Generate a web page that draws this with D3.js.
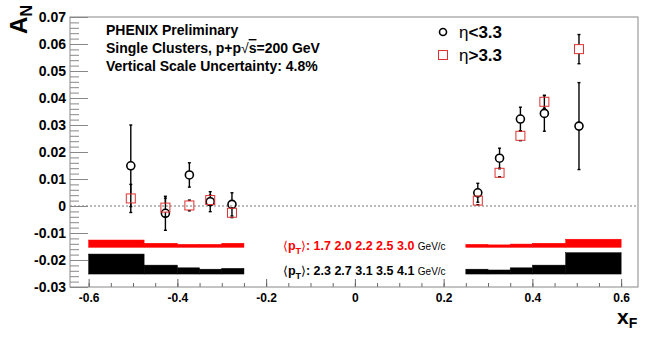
<!DOCTYPE html>
<html>
<head>
<meta charset="utf-8">
<script src="https://cdn.jsdelivr.net/npm/d3@7"></script>
<style>
body { margin: 0; background: #fff; }
svg { font-family: "Liberation Sans", Arial, sans-serif; }
</style>
</head>
<body>
<script>
// x_F of each measured point (both eta ranges share the same bins)
var xfPoints = [-0.505, -0.427, -0.373, -0.326, -0.277, 0.277, 0.326, 0.373, 0.427, 0.505];

// eta < 3.3 (black circles)
var anLowEta = [0.0149, -0.0027, 0.0115, 0.0016, 0.0006, 0.0049, 0.0177, 0.0322, 0.0343, 0.0296];
var errLowEta = [0.0151, 0.0063, 0.0045, 0.0037, 0.0043, 0.0035, 0.0037, 0.0044, 0.0066, 0.0161];

// eta > 3.3 (red squares)
var anHighEta = [0.0028, -0.0006, 0.0002, 0.0022, -0.0025, 0.0020, 0.0123, 0.0260, 0.0386, 0.0581];
var errHighEta = [0.0052, 0.0035, 0.0020, 0.0018, 0.0018, 0.0015, 0.0015, 0.0018, 0.0024, 0.0054];

// systematic bands drawn under the points
var bandEdgesLeft = [-0.6, -0.475, -0.4, -0.35, -0.3, -0.25];
var bandEdgesRight = [0.25, 0.3, 0.35, 0.4, 0.475, 0.6];
var redBandBase = -0.0153;
var redBandLeft = [0.0027, 0.0015, 0.0011, 0.0011, 0.0015];
var redBandRight = [0.0011, 0.0009, 0.0012, 0.0015, 0.0030];
var blackBandBase = -0.0252;
var blackBandLeft = [0.0074, 0.0033, 0.0023, 0.0018, 0.0021];
var blackBandRight = [0.0018, 0.0015, 0.0023, 0.0033, 0.0079];

var ptRed = ["1.7", "2.0", "2.2", "2.5", "3.0"];
var ptBlack = ["2.3", "2.7", "3.1", "3.5", "4.1"];

var xTicks = [-0.6, -0.4, -0.2, 0, 0.2, 0.4, 0.6];
var xTickLabels = ["-0.6", "-0.4", "-0.2", "0", "0.2", "0.4", "0.6"];
var yTicks = [-0.03, -0.02, -0.01, 0, 0.01, 0.02, 0.03, 0.04, 0.05, 0.06, 0.07];
var yTickLabels = ["-0.03", "-0.02", "-0.01", "0", "0.01", "0.02", "0.03", "0.04", "0.05", "0.06", "0.07"];

var width = 664, height = 343;
var frame = {left: 70, right: 638, top: 17, bottom: 287};

var x = d3.scaleLinear().domain([-0.642, 0.638]).range([frame.left, frame.right]);
var y = d3.scaleLinear().domain([-0.03, 0.07]).range([frame.bottom, frame.top]);

var svg = d3.select("body").append("svg")
	.attr("width", width)
	.attr("height", height);

// bands
function drawBand(edges, heights, base, color) {
	svg.append("g").selectAll("rect")
		.data(heights)
		.enter().append("rect")
		.attr("x", function (d, i) { return x(edges[i]); })
		.attr("width", function (d, i) { return x(edges[i + 1]) - x(edges[i]); })
		.attr("y", function (d) { return y(base + d); })
		.attr("height", function (d) { return y(base) - y(base + d); })
		.attr("fill", color)
		.attr("stroke", color)
		.attr("stroke-width", 0.5);
}
drawBand(bandEdgesLeft, redBandLeft, redBandBase, "#ff0000");
drawBand(bandEdgesRight, redBandRight, redBandBase, "#ff0000");
drawBand(bandEdgesLeft, blackBandLeft, blackBandBase, "#000");
drawBand(bandEdgesRight, blackBandRight, blackBandBase, "#000");

// zero line
svg.append("line")
	.attr("x1", frame.left).attr("x2", frame.right)
	.attr("y1", y(0)).attr("y2", y(0))
	.attr("stroke", "#777")
	.attr("stroke-width", 1)
	.attr("stroke-dasharray", "2,2");

// axes
var yMinor = d3.range(-30, 71, 2).map(function (i) { return i / 1000; });
var xMinor = d3.range(-12, 13, 1).map(function (i) { return i / 20; });

svg.append("g")
	.attr("transform", "translate(" + frame.left + ",0)")
	.call(d3.axisLeft(y).tickValues(yMinor).tickSize(-9).tickSizeOuter(0).tickFormat(""))
	.call(function (g) { g.select(".domain").remove(); g.selectAll("line").attr("stroke", "#888"); });

svg.append("g")
	.attr("transform", "translate(" + frame.left + ",0)")
	.call(d3.axisLeft(y).tickValues(yTicks).tickSize(-18).tickSizeOuter(0).tickPadding(4)
		.tickFormat(function (d, i) { return yTickLabels[i]; }))
	.call(function (g) {
		g.select(".domain").remove();
		g.selectAll("line").attr("stroke", "#888");
		g.selectAll("text").attr("font-size", 14).attr("font-weight", "bold")
			.attr("font-family", "Liberation Sans, Arial, sans-serif").attr("fill", "#000");
	});

svg.append("g")
	.attr("transform", "translate(0," + frame.bottom + ")")
	.call(d3.axisBottom(x).tickValues(xMinor).tickSize(-4).tickSizeOuter(0).tickFormat(""))
	.call(function (g) { g.select(".domain").remove(); g.selectAll("line").attr("stroke", "#666"); });

svg.append("g")
	.attr("transform", "translate(0," + frame.bottom + ")")
	.call(d3.axisBottom(x).tickValues(xTicks).tickSize(-8).tickSizeOuter(0).tickPadding(6)
		.tickFormat(function (d, i) { return xTickLabels[i]; }))
	.call(function (g) {
		g.select(".domain").remove();
		g.selectAll("line").attr("stroke", "#666");
		g.selectAll("text").attr("font-size", 12).attr("font-weight", "bold")
			.attr("font-family", "Liberation Sans, Arial, sans-serif").attr("fill", "#000");
	});

// frame
svg.append("rect")
	.attr("x", frame.left).attr("y", frame.top)
	.attr("width", frame.right - frame.left)
	.attr("height", frame.bottom - frame.top)
	.attr("fill", "none")
	.attr("stroke", "#888")
	.attr("stroke-width", 1);

// error bars, leaving a gap for the marker
function drawErrors(values, errors, gap) {
	var g = svg.append("g").attr("stroke", "#000").attr("stroke-width", 1.4);
	values.forEach(function (v, i) {
		var cx = x(xfPoints[i]);
		var top = y(v + errors[i]), bot = y(v - errors[i]), cy = y(v);
		if (top < cy - gap) g.append("line").attr("x1", cx).attr("x2", cx).attr("y1", top).attr("y2", cy - gap);
		if (bot > cy + gap) g.append("line").attr("x1", cx).attr("x2", cx).attr("y1", cy + gap).attr("y2", bot);
		g.append("line").attr("x1", cx - 1.5).attr("x2", cx + 1.5).attr("y1", top).attr("y2", top);
		g.append("line").attr("x1", cx - 1.5).attr("x2", cx + 1.5).attr("y1", bot).attr("y2", bot);
	});
}
drawErrors(anLowEta, errLowEta, 4);
drawErrors(anHighEta, errHighEta, 4.5);

svg.append("g").selectAll("circle")
	.data(anLowEta)
	.enter().append("circle")
	.attr("cx", function (d, i) { return x(xfPoints[i]); })
	.attr("cy", function (d) { return y(d); })
	.attr("r", 4)
	.attr("fill", "none")
	.attr("stroke", "#000")
	.attr("stroke-width", 1.6);

svg.append("g").selectAll("rect")
	.data(anHighEta)
	.enter().append("rect")
	.attr("x", function (d, i) { return x(xfPoints[i]) - 4.5; })
	.attr("y", function (d) { return y(d) - 4.5; })
	.attr("width", 9)
	.attr("height", 9)
	.attr("fill", "none")
	.attr("stroke", "#e03030")
	.attr("stroke-width", 1);

// axis titles
var yTitle = svg.append("text")
	.attr("transform", "translate(27,5) rotate(-90)")
	.attr("text-anchor", "end")
	.attr("font-weight", "bold")
	.attr("font-size", 24);
yTitle.append("tspan").text("A");
yTitle.append("tspan").attr("font-size", 16).attr("dy", 5).text("N");

var xTitle = svg.append("text")
	.attr("x", 617).attr("y", 324)
	.attr("font-weight", "bold")
	.attr("font-size", 21);
xTitle.append("tspan").text("x");
xTitle.append("tspan").attr("font-size", 14).attr("dy", 4).text("F");

// header
var header = svg.append("g").attr("font-weight", "bold").attr("font-size", 14);
header.append("text").attr("x", 106).attr("y", 35).text("PHENIX Preliminary");
var h2 = header.append("text").attr("x", 106).attr("y", 53);
h2.append("tspan").text("Single Clusters, p+p");
h2.append("tspan").attr("font-weight", "normal").text("\u221A");
h2.append("tspan").style("text-decoration", "overline").text("s");
h2.append("tspan").text("=200 GeV");
header.append("text").attr("x", 106).attr("y", 71).text("Vertical Scale Uncertainty: 4.8%");

// legend
svg.append("circle")
	.attr("cx", 443).attr("cy", 32).attr("r", 3.5)
	.attr("fill", "none").attr("stroke", "#000").attr("stroke-width", 1.6);
svg.append("rect")
	.attr("x", 438.5).attr("y", 50.5).attr("width", 9).attr("height", 9)
	.attr("fill", "none").attr("stroke", "#e03030").attr("stroke-width", 1);
var leg1 = svg.append("text").attr("x", 459).attr("y", 38).attr("font-size", 17).attr("font-weight", "bold");
leg1.append("tspan").attr("font-weight", "normal").text("\u03B7");
leg1.append("tspan").text("<3.3");
var leg2 = svg.append("text").attr("x", 459).attr("y", 61).attr("font-size", 17).attr("font-weight", "bold");
leg2.append("tspan").attr("font-weight", "normal").text("\u03B7");
leg2.append("tspan").text(">3.3");

// <pT> labels
function ptLabel(values, color, yBase) {
	var t = svg.append("text")
		.attr("x", 283).attr("y", yBase)
		.attr("fill", color)
		.attr("font-weight", "bold")
		.attr("font-size", 12.5);
	t.append("tspan").attr("font-family", "DejaVu Sans").attr("font-weight", "normal").text("\u27E8");
	t.append("tspan").text("p");
	t.append("tspan").attr("font-size", 9).attr("dy", 4).text("T");
	t.append("tspan").attr("dy", -4).attr("font-family", "DejaVu Sans").attr("font-weight", "normal").text("\u27E9");
	t.append("tspan").text(": " + values.join(" ") + " ");
	t.append("tspan").attr("font-weight", "normal").attr("font-size", 10).attr("fill", "#000").text("GeV/c");
}
ptLabel(ptRed, "#ff0000", 250);
ptLabel(ptBlack, "#000", 275);
</script>
</body>
</html>
